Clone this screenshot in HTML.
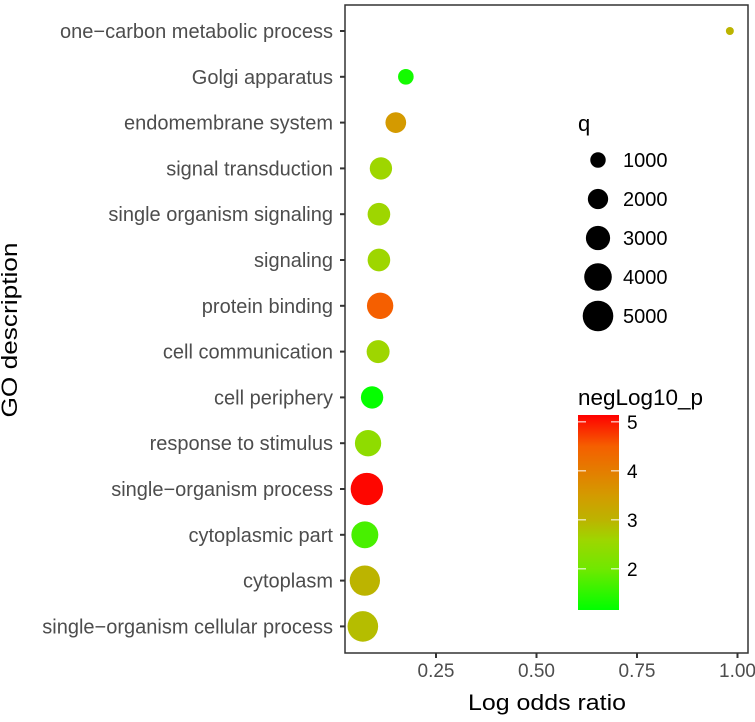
<!DOCTYPE html>
<html><head><meta charset="utf-8"><style>
body{margin:0;background:#fff;font-family:"Liberation Sans",Arial,sans-serif}
svg text{font-family:"Liberation Sans",Arial,sans-serif}
</style></head><body>
<svg id="chart" width="755" height="717" viewBox="0 0 755 717">
<defs>
<linearGradient id="cbar" x1="0" y1="1" x2="0" y2="0">
<stop offset="0" stop-color="#00ff00"/><stop offset="0.21" stop-color="#70e800"/>
<stop offset="0.36" stop-color="#9ed600"/><stop offset="0.46" stop-color="#bcb400"/>
<stop offset="0.59" stop-color="#d49a00"/><stop offset="0.84" stop-color="#f55f00"/>
<stop offset="1" stop-color="#ff0000"/>
</linearGradient>
</defs>
<g id="plot"></g>
<text x="17" y="330" font-size="22" fill="#000" text-anchor="middle" textLength="175" lengthAdjust="spacingAndGlyphs" transform="rotate(-90 17 330)">GO description</text>
<text x="547" y="710" font-size="22" fill="#000" text-anchor="middle" textLength="158" lengthAdjust="spacingAndGlyphs">Log odds ratio</text>
<g id="legend">
<text x="578" y="131" font-size="22" fill="#000">q</text>
<text x="578" y="405" font-size="22" fill="#000" textLength="125" lengthAdjust="spacingAndGlyphs">negLog10_p</text>
<rect x="578" y="415" width="41" height="195" fill="url(#cbar)"/>
</g>
</svg>
<script>
const categories=["one-carbon metabolic process","Golgi apparatus","endomembrane system","signal transduction","single organism signaling","signaling","protein binding","cell communication","cell periphery","response to stimulus","single-organism process","cytoplasmic part","cytoplasm","single-organism cellular process"];
const logOdds=[0.981,0.175,0.150,0.113,0.108,0.108,0.111,0.106,0.091,0.081,0.078,0.073,0.073,0.068];
const qValues=[0,1030,2090,2500,2570,2570,3620,2660,2500,3600,5640,3800,4900,5000];
const negLog10p=[3.0,1.3,3.5,2.6,2.6,2.6,4.5,2.6,1.2,2.4,5.1,1.7,3.0,2.9];
const xTicks=[0.25,0.5,0.75,1.0];
const xTickLabels=["0.25","0.50","0.75","1.00"];
const sizeLegend=[1000,2000,3000,4000,5000];
const colorTicks=[2,3,4,5];

const NS="http://www.w3.org/2000/svg";
const L=345,R=748,T=5,B=653;
const xs=v=>335.5+v*402;
const ys=i=>31+i*45.8;
const rs=q=>Math.sqrt(16+0.0436*q);
const cbY=v=>610-(v-1.16)/(5.14-1.16)*195;
const stops=[[1.16,[0,255,0]],[2,[112,232,0]],[2.6,[158,214,0]],[3.0,[188,180,0]],[3.5,[212,154,0]],[4.5,[245,95,0]],[5.14,[255,0,0]]];
function col(v){
  if(v<=stops[0][0])return "rgb(0,255,0)";
  for(let i=1;i<stops.length;i++){if(v<=stops[i][0]){const a=stops[i-1],b=stops[i],t=(v-a[0])/(b[0]-a[0]);
    const c=a[1].map((x,k)=>Math.round(x+(b[1][k]-x)*t));return `rgb(${c})`;}}
  return "rgb(255,0,0)";
}
function mk(tag,at,parent){const e=document.createElementNS(NS,tag);for(const k in at)e.setAttribute(k,at[k]);parent.appendChild(e);return e;}
const plot=document.getElementById('plot');
const frame=mk('rect',{x:L,y:T,width:R-L,height:B-T,fill:'none',stroke:'#333',"stroke-width":1.5},plot);


categories.forEach((c,i)=>{
  const t=mk('line',{x1:L-5,x2:L,y1:ys(i),y2:ys(i),stroke:'#333',"stroke-width":2},plot);
  
  
  const tx=mk('text',{x:L-12,y:ys(i)+7,"font-size":20,fill:'#4d4d4d',"text-anchor":'end'},plot);
  tx.textContent=c.replace(/-/g,'\u2212');
  
  
});
xTicks.forEach((v,i)=>{
  const t=mk('line',{x1:xs(v),x2:xs(v),y1:B,y2:B+5,stroke:'#333',"stroke-width":2},plot);
  
  
  const tx=mk('text',{x:xs(v),y:B+24,"font-size":19,fill:'#4d4d4d',"text-anchor":'middle'},plot);
  tx.textContent=xTickLabels[i];
  
  
});
categories.forEach((c,i)=>{
  const p=mk('circle',{cx:xs(logOdds[i]),cy:ys(i),r:rs(qValues[i]),fill:col(negLog10p[i])},plot);
  
  
});
const lg=document.getElementById('legend');
sizeLegend.forEach((q,i)=>{
  const y=160+i*39;
  const c=mk('circle',{cx:598,cy:y,r:rs(q),fill:'#000'},lg);
  
  
  const t=mk('text',{x:623,y:y+7,"font-size":20,fill:'#000'},lg);
  t.textContent=q;
  
  
});
colorTicks.forEach(v=>{
  const y=cbY(v);
  const a=mk('line',{x1:578,x2:586,y1:y,y2:y,stroke:'#fff',"stroke-width":1},lg);
  
  
  const b=mk('line',{x1:611,x2:619,y1:y,y2:y,stroke:'#fff',"stroke-width":1},lg);
  
  
  const t=mk('text',{x:627,y:y+7,"font-size":19,fill:'#000'},lg);
  t.textContent=v;
  
  
});
</script>
</body></html>
